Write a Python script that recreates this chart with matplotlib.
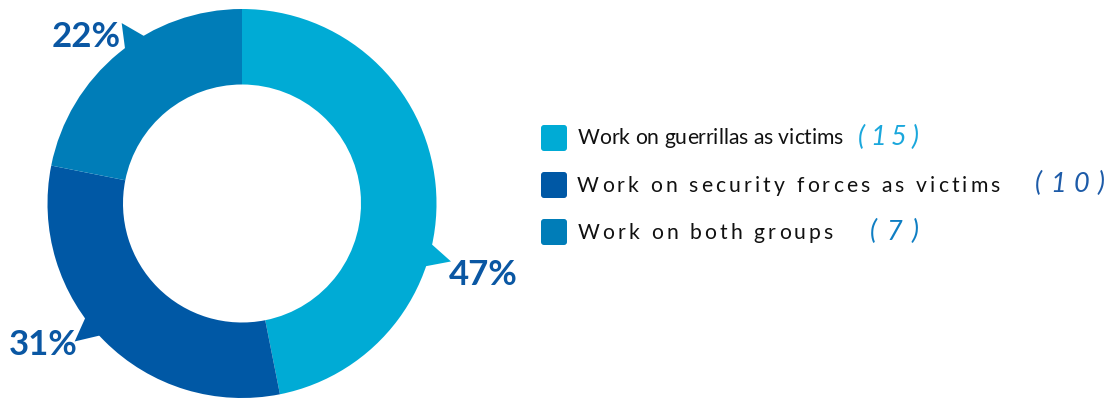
import matplotlib
matplotlib.use("Agg")
import numpy as np
import matplotlib.pyplot as plt
from matplotlib import font_manager as fm
from matplotlib.ft2font import FT2Font
from matplotlib.patches import Polygon, FancyBboxPatch

try:
    from matplotlib.ft2font import LoadFlags
    NO_HINT = LoadFlags.NO_HINTING
except ImportError:
    from matplotlib.ft2font import LOAD_NO_HINTING as NO_HINT

# ---- data -------------------------------------------------------------
categories = [
    "Work on guerrillas as victims",
    "Work on security forces as victims",
    "Work on both groups",
]
counts = [15, 10, 7]

# ---- styling ------------------------------------------------------------
slice_colors = ["#00ABD5", "#0058A5", "#007DB8"]
count_colors = ["#1AA7DC", "#1D5BA8", "#0F7EC3"]
label_color = "#0A57A3"
text_color = "#111111"
FONT = "Lato"

W, H, DPI = 1112, 398, 100
CX, CY = 242, H - 203.5          # ring centre (pixel units, y up)
R_OUT, R_IN = 194.5, 119

# callout tab direction (degrees clockwise from 12 o'clock) per slice
tab_angles = [105.5, 230.5, 326.3]
TAB_HALF = 3.8
TAB_REACH = 1.115

# percentage labels: (left ink x, right ink x, baseline y) in image pixels
pct_pos = [(448, 517, 285), (8, 78, 355), (52, 120, 47)]
PCT_SIZE = 25.0

# legend layout (image pixels)
row_base = [143.5, 192, 239]
row_box_top = [125, 172, 219]
row_text_span = [(578, 842), (577, 999), (578, 832)]
row_count_span = [(859, 917), (1036, 1103), (871, 917)]
row_count_base = [145, 191.5, 239.5]
COUNT_SIZE = 19.5

fig = plt.figure(figsize=(W / DPI, H / DPI), dpi=DPI)
ax = fig.add_axes([0, 0, 1, 1])

# ---- donut ---------------------------------------------------------------
ax.pie(counts, colors=slice_colors, startangle=90, counterclock=False,
       radius=R_OUT, center=(CX, CY),
       wedgeprops=dict(width=R_OUT - R_IN, linewidth=0))


def polar(a_deg, r):
    t = np.radians(90 - a_deg)
    return CX + r * np.cos(t), CY + r * np.sin(t)


for ang, col in zip(tab_angles, slice_colors):
    pts = [polar(ang - TAB_HALF, R_OUT - 3),
           polar(ang, R_OUT * TAB_REACH),
           polar(ang + TAB_HALF, R_OUT - 3)]
    ax.add_patch(Polygon(pts, closed=True, facecolor=col, edgecolor="none"))


# ---- text helpers --------------------------------------------------------
def glyph_metrics(s, size_pt, style="normal", weight="normal"):
    path = fm.findfont(fm.FontProperties(family=FONT, style=style, weight=weight))
    font = FT2Font(path, hinting_factor=1)
    font.set_size(size_pt, DPI)
    adv, lsb, wid = [], [], []
    for ch in s:
        g = font.load_char(ord(ch), flags=NO_HINT)
        adv.append(g.linearHoriAdvance / 65536)
        lsb.append(g.horiBearingX / 64)
        wid.append(g.width / 64)
    return adv, lsb, wid


def ink_span(s, size_pt, style="normal", weight="normal"):
    adv, lsb, wid = glyph_metrics(s, size_pt, style, weight)
    return sum(adv[:-1]) + lsb[-1] + wid[-1] - lsb[0]


def tracked_text(s, x_left, x_right, y_base, size_pt, color,
                 style="normal", weight="normal"):
    adv, lsb, wid = glyph_metrics(s, size_pt, style, weight)
    n = len(s)
    natural = sum(adv[:-1]) + lsb[-1] + wid[-1] - lsb[0]
    track = (x_right - x_left - natural) / (n - 1) if n > 1 else 0.0
    x = x_left - lsb[0]
    for ch, a in zip(s, adv):
        if not ch.isspace():
            ax.text(x, H - y_base, ch, ha="left", va="baseline",
                    fontsize=size_pt, family=FONT, style=style,
                    weight=weight, color=color)
        x += a + track


# ---- percentage labels -------------------------------------------------
total = sum(counts)
for v, (x0, x1, yb) in zip(counts, pct_pos):
    s = f"{round(v / total * 100)}%"
    adv, lsb, wid = glyph_metrics(s, PCT_SIZE, weight="bold")
    span = ink_span(s, PCT_SIZE, weight="bold")
    ax.text((x0 + x1) / 2 - span / 2 - lsb[0], H - yb, s, ha="left",
            va="baseline", fontsize=PCT_SIZE, family=FONT, weight="bold",
            color=label_color)

# ---- legend ----------------------------------------------------------------
# the first row is set with natural spacing: size it to its measured width
ref = 13.0
legend_size = ref * (row_text_span[0][1] - row_text_span[0][0]) / ink_span(categories[0], ref)

for i, (cat, n) in enumerate(zip(categories, counts)):
    top = row_box_top[i]
    ax.add_patch(FancyBboxPatch((541, H - top - 26), 26, 26,
                                boxstyle="round,pad=0,rounding_size=3",
                                facecolor=slice_colors[i], edgecolor="none"))
    tracked_text(cat, *row_text_span[i], row_base[i], legend_size, text_color)
    tracked_text(f"({n})", *row_count_span[i], row_count_base[i], COUNT_SIZE,
                 count_colors[i], style="italic")

ax.set_xlim(0, W)
ax.set_ylim(0, H)
ax.set_aspect("auto")
ax.axis("off")

fig.savefig("out.png", dpi=DPI)
